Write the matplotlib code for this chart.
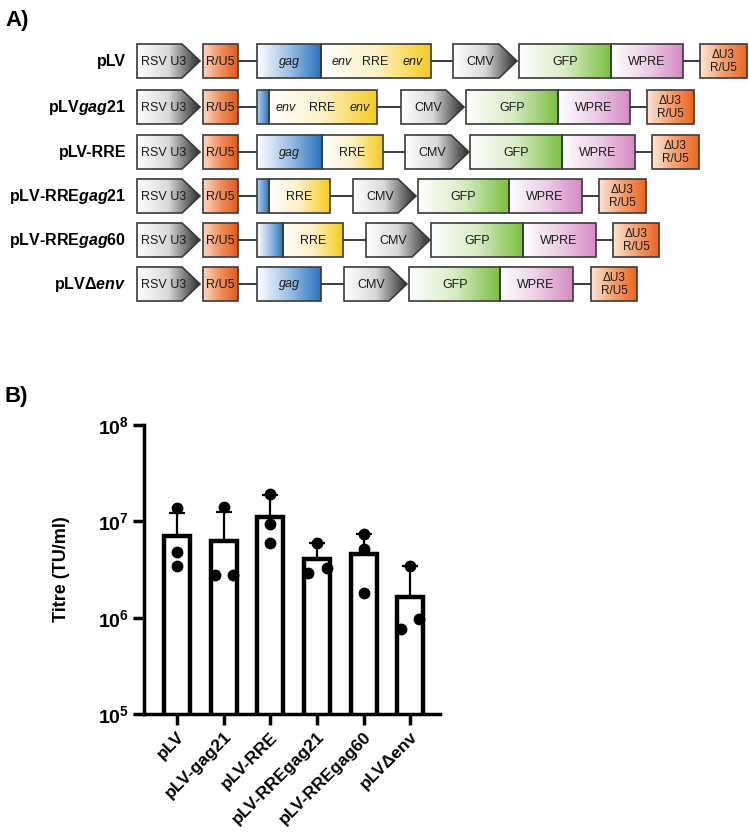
"""
Figura: esquema de los vectores (A) y titulo de cada construccion (B).
"""

import numpy as np
import matplotlib
matplotlib.use('Agg')
import matplotlib.pyplot as plt
from matplotlib.colors import LinearSegmentedColormap
from matplotlib.patches import Polygon, Rectangle

plt.rcParams['font.family'] = ['Liberation Sans', 'DejaVu Sans']
plt.rcParams['mathtext.fontset'] = 'custom'
plt.rcParams['mathtext.rm'] = 'Liberation Sans:bold'
plt.rcParams['mathtext.bf'] = 'Liberation Sans:bold'
plt.rcParams['mathtext.it'] = 'Liberation Sans:italic:bold'

# ---------------- datos del panel B ----------------
construcciones = ['pLV', 'pLV-gag21', 'pLV-RRE', 'pLV-RREgag21',
                  'pLV-RREgag60', 'pLVΔenv']
medias = [7.0e6, 6.3e6, 1.1e7, 4.1e6, 4.6e6, 1.65e6]
desv = [5.1e6, 6.1e6, 7.6e6, 1.8e6, 2.7e6, 1.75e6]
replicas = [[1.36e7, 4.75e6, 3.47e6],
            [1.40e7, 2.75e6, 2.75e6],
            [1.90e7, 9.3e6, 6.0e6],
            [6.0e6, 2.94e6, 3.3e6],
            [7.3e6, 5.2e6, 1.82e6],
            [3.4e6, 7.7e5, 9.8e5]]
# desplazamiento horizontal de cada replica (para que no se solapen)
jitter = [[0, 0, 0], [0, -0.19, 0.19], [0, 0, 0],
          [0, -0.19, 0.21], [0, 0, 0], [0, -0.19, 0.19]]

# ---------------- esquema del panel A ----------------
etiquetas_a = ['pLV', 'pLV$\\mathit{gag}$21', 'pLV-RRE',
               'pLV-RRE$\\mathit{gag}$21', 'pLV-RRE$\\mathit{gag}$60',
               'pLVΔ$\\mathit{env}$']

colores = {
    'gris': ['#ffffff', '#d9d9d9', '#2b2b2b'],
    'naranja': ['#fcd9c4', '#f09060', '#e5581b'],
    'naranja2': ['#fde6d6', '#f4a070', '#ec6420'],
    'azul': ['#ffffff', '#9cc0e6', '#2a74bc'],
    'azul_claro': ['#b8d2ee', '#2a74bc'],
    'amarillo': ['#ffffff', '#fdf1c6', '#f6cc1c'],
    'verde': ['#ffffff', '#d9ecc6', '#7cbf40'],
    'rosa': ['#ffffff', '#ecd0e6', '#d68ac4'],
}

# elementos comunes al inicio de cada fila
inicio = [('flecha', 137, 200, 'RSV U3'),
          ('caja', 203, 238, 'naranja', [(220, 'R/U5', 'normal')]),
          ('linea', 238, 257)]

ltr = 'ΔU3\nR/U5'
filas = [
    [('caja', 257, 321, 'azul', [(289, 'gag', 'italic')]),
     ('caja', 321, 431, 'amarillo', [(342, 'env', 'italic'), (375, 'RRE', 'normal'),
                                     (413, 'env', 'italic')]),
     ('linea', 431, 453), ('flecha', 453, 517, 'CMV'),
     ('caja', 519, 611, 'verde', [(565, 'GFP', 'normal')]),
     ('caja', 611, 683, 'rosa', [(647, 'WPRE', 'normal')]),
     ('linea', 683, 700), ('caja', 700, 747, 'naranja2', [(723, ltr, 'normal')])],
    [('caja', 257, 269, 'azul_claro', []),
     ('caja', 269, 377, 'amarillo', [(286, 'env', 'italic'), (322, 'RRE', 'normal'),
                                     (360, 'env', 'italic')]),
     ('linea', 377, 401), ('flecha', 401, 464, 'CMV'),
     ('caja', 466, 558, 'verde', [(512, 'GFP', 'normal')]),
     ('caja', 558, 630, 'rosa', [(594, 'WPRE', 'normal')]),
     ('linea', 630, 647), ('caja', 647, 694, 'naranja2', [(670, ltr, 'normal')])],
    [('caja', 257, 322, 'azul', [(289, 'gag', 'italic')]),
     ('caja', 322, 383, 'amarillo', [(352, 'RRE', 'normal')]),
     ('linea', 383, 405), ('flecha', 405, 469, 'CMV'),
     ('caja', 470, 562, 'verde', [(516, 'GFP', 'normal')]),
     ('caja', 562, 635, 'rosa', [(598, 'WPRE', 'normal')]),
     ('linea', 635, 652), ('caja', 652, 699, 'naranja2', [(675, ltr, 'normal')])],
    [('caja', 257, 269, 'azul_claro', []),
     ('caja', 269, 330, 'amarillo', [(299, 'RRE', 'normal')]),
     ('linea', 330, 353), ('flecha', 353, 416, 'CMV'),
     ('caja', 418, 509, 'verde', [(463, 'GFP', 'normal')]),
     ('caja', 509, 582, 'rosa', [(545, 'WPRE', 'normal')]),
     ('linea', 582, 599), ('caja', 599, 646, 'naranja2', [(622, ltr, 'normal')])],
    [('caja', 257, 283, 'azul', []),
     ('caja', 283, 343, 'amarillo', [(313, 'RRE', 'normal')]),
     ('linea', 343, 366), ('flecha', 366, 430, 'CMV'),
     ('caja', 431, 523, 'verde', [(477, 'GFP', 'normal')]),
     ('caja', 523, 596, 'rosa', [(559, 'WPRE', 'normal')]),
     ('linea', 596, 613), ('caja', 613, 659, 'naranja2', [(636, ltr, 'normal')])],
    [('caja', 257, 321, 'azul', [(289, 'gag', 'italic')]),
     ('linea', 321, 344), ('flecha', 344, 407, 'CMV'),
     ('caja', 409, 500, 'verde', [(455, 'GFP', 'normal')]),
     ('caja', 500, 573, 'rosa', [(536, 'WPRE', 'normal')]),
     ('linea', 573, 591), ('caja', 591, 637, 'naranja2', [(614, ltr, 'normal')])],
]
centros_y = [61, 107, 152, 196, 240, 284]

BORDE = '#3a3a3a'
ALTO = 17


def degradado(ax, x0, x1, y0, y1, lista, clip=None):
    cmap = LinearSegmentedColormap.from_list('g', lista)
    grad = np.linspace(0, 1, 256).reshape(1, -1)
    im = ax.imshow(grad, cmap=cmap, extent=(x0, x1, y1, y0), aspect='auto',
                   interpolation='bilinear', zorder=1)
    if clip is not None:
        im.set_clip_path(clip)


def dibujar(ax, elem, yc):
    y0, y1 = yc - ALTO, yc + ALTO
    if elem[0] == 'linea':
        ax.plot([elem[1], elem[2]], [yc, yc], color=BORDE, lw=1.4, zorder=0)
    elif elem[0] == 'flecha':
        x0, x1, texto = elem[1], elem[2], elem[3]
        hombro = x1 - 18
        pts = [(x0, y0), (hombro, y0), (x1, yc), (hombro, y1), (x0, y1)]
        pol = Polygon(pts, closed=True, facecolor='none', edgecolor=BORDE,
                      lw=1.2, zorder=2)
        ax.add_patch(pol)
        degradado(ax, x0, x1, y0, y1, colores['gris'], clip=pol)
        ax.text(x0 + 0.43 * (x1 - x0), yc + 0.5, texto, ha='center',
                va='center', fontsize=9, color='#1a1a1a', zorder=3)
    else:
        x0, x1, clave, textos = elem[1], elem[2], elem[3], elem[4]
        rect = Rectangle((x0, y0), x1 - x0, y1 - y0, facecolor='none',
                         edgecolor=BORDE, lw=1.2, zorder=2)
        ax.add_patch(rect)
        degradado(ax, x0, x1, y0, y1, colores[clave])
        for xt, t, estilo in textos:
            fs = 8.5 if '\n' in t else 9
            ax.text(xt, yc + 0.5, t, ha='center', va='center', fontsize=fs,
                    fontstyle=estilo, color='#1a1a1a', linespacing=1.15,
                    zorder=3)


fig = plt.figure(figsize=(7.49, 8.34), dpi=100)

# panel A en coordenadas de pixel
ax_a = fig.add_axes([0, 0, 1, 1])
for etiqueta, fila, yc in zip(etiquetas_a, filas, centros_y):
    for elem in inicio + fila:
        dibujar(ax_a, elem, yc)
    ax_a.text(126, yc, etiqueta, ha='right', va='center', fontsize=11.5,
              fontweight='bold')
ax_a.text(5, 20, 'A)', ha='left', va='center', fontsize=16, fontweight='bold')
ax_a.text(5, 396, 'B)', ha='left', va='center', fontsize=16, fontweight='bold')
ax_a.set_xlim(0, 749)
ax_a.set_ylim(834, 0)
ax_a.axis('off')

# panel B: grafico de barras en escala log
ax_b = fig.add_axes([144 / 749, 120 / 834, 296 / 749, 289 / 834])
x = np.arange(len(construcciones))
ax_b.bar(x, medias, width=0.56, color='white', edgecolor='black',
         linewidth=3.2, zorder=2)
ax_b.errorbar(x, medias, yerr=[np.zeros(len(desv)), desv], fmt='none',
              ecolor='black', elinewidth=1.6, capsize=6, capthick=1.6,
              zorder=3)
for i, vals in enumerate(replicas):
    ax_b.plot(x[i] + np.array(jitter[i]), vals, 'o', color='black',
              markersize=7.5, zorder=4, clip_on=False)

ax_b.set_yscale('log')
ax_b.set_ylim(1e5, 1e8)
ax_b.set_xlim(-0.71, 5.64)
ax_b.set_yticks([1e5, 1e6, 1e7, 1e8])
ax_b.set_yticklabels(['$\\mathbf{10^{%d}}$' % e for e in range(5, 9)],
                     fontsize=14)
ax_b.yaxis.set_minor_locator(matplotlib.ticker.NullLocator())
ax_b.set_xticks(x)
ax_b.set_xticklabels(construcciones, rotation=45, ha='right',
                     rotation_mode='anchor', fontsize=12.5, fontweight='bold')
ax_b.tick_params(axis='both', width=2.5, length=8, direction='out')
ax_b.tick_params(axis='y', pad=3)
ax_b.tick_params(axis='x', pad=3)
for lado in ['top', 'right']:
    ax_b.spines[lado].set_visible(False)
for lado in ['left', 'bottom']:
    ax_b.spines[lado].set_linewidth(2.5)
ax_b.set_ylabel('Titre (TU/ml)', fontsize=13, fontweight='bold', labelpad=20)

plt.savefig('out.png', dpi=100)
